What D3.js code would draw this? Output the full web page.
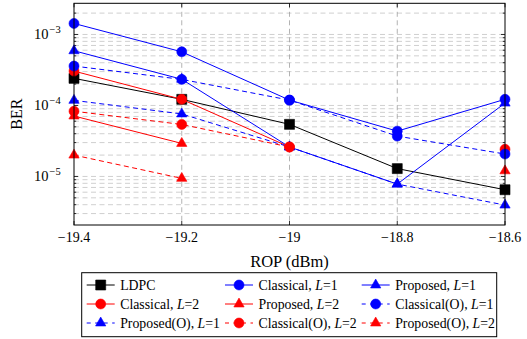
<!DOCTYPE html>
<html><head><meta charset="utf-8">
<script src="https://cdn.jsdelivr.net/npm/d3@7"></script>
<style>body{margin:0;background:#fff}svg{display:block}
text{font-family:"Liberation Serif","DejaVu Serif","Times New Roman",serif;}</style>
</head><body>
<svg id="c" width="527" height="339"></svg>
<script>
const rop = [-19.4, -19.2, -19.0, -18.8, -18.6];
const xTicks = [-19.4, -19.2, -19.0, -18.8, -18.6];
const xTickLabels = ["\u221219.4", "\u221219.2", "\u221219", "\u221218.8", "\u221218.6"];
const yTickExps = [-5, -4, -3];

const ldpc        = [2.41e-4, 1.22e-4, 5.42e-5, 1.29e-5, 6.5e-6];
const classicalL1 = [1.43e-3, 5.7e-4, 1.19e-4, 4.35e-5, 1.22e-4];
const proposedL1  = [5.9e-4, 2.34e-4, 2.6e-5, 7.8e-6, 1.08e-4];
const classicalL2 = [3.05e-4, 1.22e-4, 2.6e-5, null, 2.41e-5];
const proposedL2  = [7.1e-5, 2.92e-5, null, null, 1.2e-5];
const classicalOL1 = [3.59e-4, 2.33e-4, 1.19e-4, 3.7e-5, 2.07e-5];
const proposedOL1  = [1.18e-4, 7.6e-5, 2.6e-5, 7.8e-6, 3.95e-6];
const classicalOL2 = [8.3e-5, 5.4e-5, 2.6e-5, null, null];
const proposedOL2  = [2.0e-5, 9.4e-6, null, null, null];

const series = [
  {name: [["LDPC"]], data: ldpc, color: "#000000", mark: "square", dash: null},
  {name: [["Classical, "], ["L", true], ["=1"]], data: classicalL1, color: "#0000ff", mark: "circle", dash: null},
  {name: [["Proposed, "], ["L", true], ["=1"]], data: proposedL1, color: "#0000ff", mark: "triangle", dash: null},
  {name: [["Classical, "], ["L", true], ["=2"]], data: classicalL2, color: "#ff0000", mark: "circle", dash: null},
  {name: [["Proposed, "], ["L", true], ["=2"]], data: proposedL2, color: "#ff0000", mark: "triangle", dash: null},
  {name: [["Classical(O), "], ["L", true], ["=1"]], data: classicalOL1, color: "#0000ff", mark: "circle", dash: "5,3.5"},
  {name: [["Proposed(O), "], ["L", true], ["=1"]], data: proposedOL1, color: "#0000ff", mark: "triangle", dash: "5,3.5"},
  {name: [["Classical(O), "], ["L", true], ["=2"]], data: classicalOL2, color: "#ff0000", mark: "circle", dash: "5,3.5"},
  {name: [["Proposed(O), "], ["L", true], ["=2"]], data: proposedOL2, color: "#ff0000", mark: "triangle", dash: "5,3.5"}
];

const svg = d3.select("#c");
const L = 74, R = 505, T = 3.3, B = 225;
const x = d3.scaleLinear().domain([-19.4, -18.6]).range([L, R]);
const y = d3.scaleLog().domain([2.07e-6, 2.75e-3]).range([B, T]);

// grid
const minorVals = [];
for (let e = -6; e <= -3; e++) for (let m = 1; m <= 9; m++) {
  const v = m * Math.pow(10, e);
  if (v >= 2.07e-6 && v <= 2.75e-3) minorVals.push(v);
}
const g = svg.append("g");
g.selectAll("line.hg").data(minorVals).enter().append("line")
  .attr("x1", L).attr("x2", R).attr("y1", d => y(d)).attr("y2", d => y(d))
  .attr("stroke", "#c4c4c4").attr("stroke-width", 0.8).attr("stroke-dasharray", "5,3.5");
g.selectAll("line.vg").data(xTicks.slice(1, -1)).enter().append("line")
  .attr("x1", d => x(d)).attr("x2", d => x(d)).attr("y1", T).attr("y2", B)
  .attr("stroke", "#a0a0a0").attr("stroke-width", 0.8).attr("stroke-dasharray", "5,3.5");

// ticks
const tk = svg.append("g").attr("stroke", "#000").attr("stroke-width", 0.8);
xTicks.forEach(v => {
  tk.append("line").attr("x1", x(v)).attr("x2", x(v)).attr("y1", B).attr("y2", B - 4);
  tk.append("line").attr("x1", x(v)).attr("x2", x(v)).attr("y1", T).attr("y2", T + 4);
});
minorVals.forEach(v => {
  const major = Math.abs(Math.log10(v) - Math.round(Math.log10(v))) < 1e-9;
  const len = major ? 4 : 2.2;
  tk.append("line").attr("x1", L).attr("x2", L + len).attr("y1", y(v)).attr("y2", y(v));
  tk.append("line").attr("x1", R).attr("x2", R - len).attr("y1", y(v)).attr("y2", y(v));
});

// lines
const line = d3.line().defined(d => d.v != null).x(d => x(d.x)).y(d => y(d.v));
const markPath = (m) => {
  if (m === "circle") return d3.symbol(d3.symbolCircle, 78)();
  if (m === "square") return d3.symbol(d3.symbolSquare, 100)();
  return d3.symbol(d3.symbolTriangle, 46)();
};
series.forEach(s => {
  const pts = rop.map((xx, i) => ({x: xx, v: s.data[i]}));
  svg.append("path").attr("d", line(pts)).attr("fill", "none")
    .attr("stroke", s.color).attr("stroke-width", 1)
    .attr("stroke-dasharray", s.dash);
  svg.append("g").selectAll("path").data(pts.filter(p => p.v != null)).enter().append("path")
    .attr("d", markPath(s.mark))
    .attr("transform", p => `translate(${x(p.x)},${y(p.v)})`)
    .attr("fill", s.color).attr("stroke", s.color).attr("stroke-width", 0.6);
});

// axis box
svg.append("rect").attr("x", L).attr("y", T).attr("width", R - L).attr("height", B - T)
  .attr("fill", "none").attr("stroke", "#000").attr("stroke-width", 1);

// x tick labels
svg.append("g").selectAll("text").data(xTicks).enter().append("text")
  .attr("x", d => x(d)).attr("y", 241.5).attr("text-anchor", "middle")
  .attr("font-size", 14)
  .text((d, i) => xTickLabels[i]);

// y tick labels
yTickExps.forEach(e => {
  const yy = y(Math.pow(10, e));
  svg.append("text").attr("x", 48.5).attr("y", yy + 5).attr("text-anchor", "end")
    .attr("font-size", 14.5).text("10");
  svg.append("text").attr("x", 49.5).attr("y", yy - 1.5)
    .attr("font-size", 10.5).text("\u2212" + Math.abs(e));
});

// axis titles
svg.append("text").attr("x", (L + R) / 2).attr("y", 266.5).attr("text-anchor", "middle")
  .attr("font-size", 16.5).text("ROP (dBm)");
svg.append("text").attr("transform", `translate(22,${(T + B) / 2}) rotate(-90)`)
  .attr("text-anchor", "middle").attr("font-size", 16).text("BER");

// legend
const lg = svg.append("g");
lg.append("rect").attr("x", 81.7).attr("y", 272.7).attr("width", 415).attr("height", 64)
  .attr("fill", "#fff").attr("stroke", "#000").attr("stroke-width", 1);
const colX = [86.7, 225, 361.7];
const rowY = [285, 304, 323];
series.forEach((s, i) => {
  const cx = colX[i % 3], cy = rowY[Math.floor(i / 3)];
  lg.append("line").attr("x1", cx).attr("x2", cx + 28).attr("y1", cy).attr("y2", cy)
    .attr("stroke", s.color).attr("stroke-width", 1).attr("stroke-dasharray", s.dash ? "4,4.5" : null);
  lg.append("path").attr("d", markPath(s.mark)).attr("transform", `translate(${cx + 14},${cy})`)
    .attr("fill", s.color).attr("stroke", s.color).attr("stroke-width", 0.6);
  const t = lg.append("text").attr("x", cx + 33.5).attr("y", cy + 4.5)
    .attr("font-size", 13.8);
  s.name.forEach(p => {
    const ts = t.append("tspan").text(p[0]);
    if (p[1]) ts.attr("font-style", "italic");
  });
});
</script>
</body></html>
